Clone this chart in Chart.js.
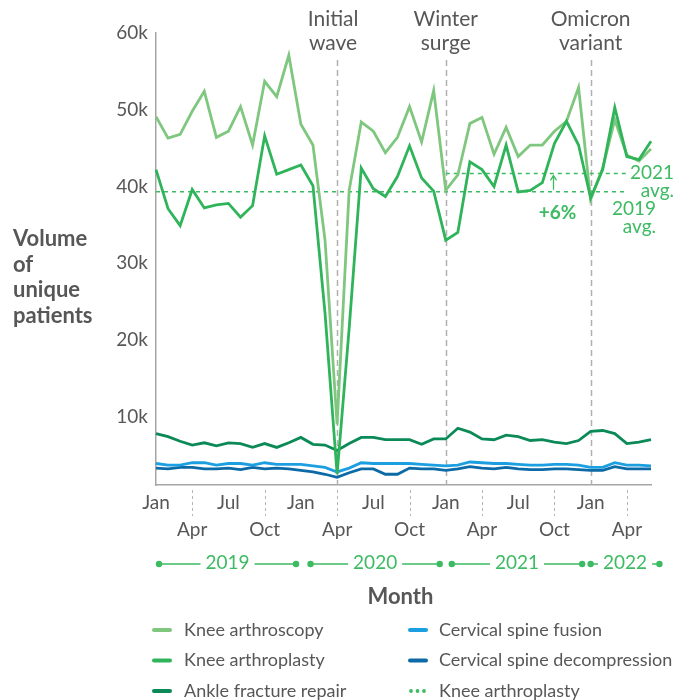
<!DOCTYPE html>
<html>
<head>
<meta charset="utf-8">
<script src="https://cdn.jsdelivr.net/npm/chart.js@4.4.1/dist/chart.umd.min.js"></script>
<style>
html, body { margin: 0; padding: 0; background: #fff; }
</style>
</head>
<body>
<canvas id="graph" width="678" height="700"></canvas>
<script>
// monthly volumes, in thousands of unique patients (Jan 2019 - Jun 2022)
const monthNames = ["Jan","Feb","Mar","Apr","May","Jun","Jul","Aug","Sep","Oct","Nov","Dec"];
const years = ["2019","2020","2021","2022"];
const months = [];
years.forEach(y => monthNames.forEach(m => months.push(m + " " + y)));
months.length = 42;

const kneeArthroscopy = [49.1,46.3,46.8,49.8,52.4,46.4,47.2,50.4,45.4,53.7,51.7,57.1,
                         48.1,45.4,33.0,9.0,39.5,48.4,47.2,44.4,46.4,50.4,45.8,52.5,
                         39.5,41.5,48.2,49.0,44.2,47.7,43.9,45.4,45.4,47.2,48.5,52.9,
                         38.3,42.4,48.7,44.1,43.3,44.9];
const kneeArthroplasty = [42.2,37.1,34.9,39.6,37.2,37.6,37.8,36.0,37.5,46.6,41.6,42.2,
                          42.8,40.1,23.5,2.5,21.5,42.4,39.7,38.7,41.3,45.3,41.1,39.4,
                          33.0,34.0,43.2,42.2,40.0,45.4,39.3,39.5,40.5,45.6,48.5,45.4,
                          38.5,42.2,50.3,43.9,43.5,45.9];
const ankleFracture = [7.8,7.4,6.8,6.3,6.6,6.2,6.6,6.5,6.0,6.5,6.0,6.6,
                       7.3,6.4,6.3,5.6,6.5,7.3,7.3,7.0,7.0,7.0,6.4,7.1,
                       7.1,8.5,8.0,7.1,7.0,7.6,7.4,6.9,7.0,6.7,6.5,6.9,
                       8.1,8.2,7.8,6.5,6.7,7.0];
const spineFusion = [3.9,3.7,3.7,4.0,4.0,3.7,3.9,3.9,3.7,4.0,3.8,3.8,
                     3.8,3.6,3.4,2.8,3.3,4.0,3.9,3.9,3.9,3.9,3.8,3.7,
                     3.6,3.7,4.1,4.0,3.9,3.9,3.8,3.7,3.7,3.8,3.8,3.7,
                     3.4,3.4,4.0,3.7,3.7,3.6];
const spineDecompression = [3.3,3.2,3.4,3.4,3.2,3.2,3.3,3.1,3.4,3.2,3.3,3.2,
                            3.0,2.8,2.5,2.1,2.7,3.2,3.2,2.5,2.5,3.3,3.2,3.2,
                            3.0,3.2,3.5,3.3,3.2,3.4,3.2,3.1,3.1,3.2,3.2,3.1,
                            3.0,3.0,3.5,3.2,3.2,3.2];

// knee arthroplasty averages and the change between them
const avg2019 = 39.3;
const avg2021 = 41.7;
const avgChange = "+6%";
const avgEnd = 39;      // month index where the avg lines stop

const yTicks = [10, 20, 30, 40, 50, 60];

// year brackets under the axis, in month units [from, to]
const yearBands = [[0.25, 11.6], [12.8, 23.5], [24.5, 35.3], [36.0, 41.7]];

const events = [
    {index: 15, text: ["Initial", "wave"]},
    {index: 24, text: ["Winter", "surge"]},
    {index: 36, text: ["Omicron", "variant"]}
];

const colors = {
    arthroscopy: "#7fc77f",
    arthroplasty: "#2fb45a",
    ankle: "#0b8a58",
    fusion: "#1c9fe0",
    decompression: "#0c6aa6",
    avg: "#3dbb62",
    text: "#575757",
    axis: "#a5a5a5"
};

const legendItems = [
    {label: "Knee arthroscopy", color: colors.arthroscopy},
    {label: "Knee arthroplasty", color: colors.arthroplasty},
    {label: "Ankle fracture repair", color: colors.ankle},
    {label: "Cervical spine fusion", color: colors.fusion},
    {label: "Cervical spine decompression", color: colors.decompression},
    {label: "Knee arthroplasty", color: colors.avg, dotted: true}
];

Chart.defaults.font.family = "Lato";
Chart.defaults.color = colors.text;

function series(label, data, color, order) {
    return {
        label: label,
        data: data,
        borderColor: color,
        borderWidth: 2.8,
        pointRadius: 0,
        tension: 0,
        fill: false,
        order: order
    };
}

function avgLine(value, from) {
    return {
        label: "avg",
        data: months.map((m, i) => (i >= from && i <= avgEnd) ? value : null),
        borderColor: colors.avg,
        borderWidth: 1.5,
        borderDash: [4, 4],
        pointRadius: 0,
        spanGaps: false,
        order: 6
    };
}

const overlay = {
    id: "overlay",
    beforeDatasetsDraw(chart) {
        const {ctx, chartArea, scales: {x}} = chart;
        ctx.save();
        ctx.strokeStyle = "#b0b0b0";
        ctx.lineWidth = 1.5;
        ctx.setLineDash([6, 4]);
        events.forEach(ev => {
            const px = Math.round(x.getPixelForValue(ev.index)) + 0.5;
            ctx.beginPath();
            ctx.moveTo(px, 60);
            ctx.lineTo(px, chartArea.bottom);
            ctx.stroke();
        });
        ctx.restore();
    },
    afterDraw(chart) {
        const {ctx, chartArea, scales: {x, y}} = chart;
        ctx.save();
        ctx.textBaseline = "middle";

        // event labels above the dashed lines
        ctx.fillStyle = colors.text;
        ctx.font = "21px Lato";
        ctx.textAlign = "center";
        events.forEach(ev => {
            const px = x.getPixelForValue(ev.index);
            ev.text.forEach((t, k) => ctx.fillText(t, px - (ev.index === 15 ? 4 : 0), 19 + k * 24));
        });

        // separators between the two rows of month labels
        ctx.strokeStyle = "#b5b5b5";
        ctx.lineWidth = 1;
        ctx.setLineDash([3, 3]);
        months.forEach((m, i) => {
            if (i % 6 !== 3) return;
            const px = Math.round(x.getPixelForValue(i)) + 0.5;
            ctx.beginPath();
            ctx.moveTo(px, 490);
            ctx.lineTo(px, 516);
            ctx.stroke();
        });
        ctx.setLineDash([]);

        // arrow from 2019 avg to 2021 avg
        const ax = Math.round(x.getPixelForValue(33)) - 0.5;
        const y19 = y.getPixelForValue(avg2019);
        const y21 = y.getPixelForValue(avg2021);
        ctx.strokeStyle = colors.avg;
        ctx.lineWidth = 1.3;
        ctx.beginPath();
        ctx.moveTo(ax, y19 - 2);
        ctx.lineTo(ax, y21 + 3);
        ctx.moveTo(ax - 3, y21 + 7);
        ctx.lineTo(ax, y21 + 2);
        ctx.lineTo(ax + 3, y21 + 7);
        ctx.stroke();
        ctx.fillStyle = colors.avg;
        ctx.font = "bold 19px Lato";
        ctx.textAlign = "center";
        ctx.fillText(avgChange, ax + 4, y19 + 21);

        // avg labels
        ctx.font = "19px Lato";
        ctx.textAlign = "right";
        ctx.fillText("2021", 674, y21 - 1);
        ctx.fillText("avg.", 674, y21 + 17);
        ctx.fillText("2019", 656, y19 + 17);
        ctx.fillText("avg.", 656, y19 + 35);

        // year bands under the month labels
        const bandY = 564;
        ctx.font = "19px Lato";
        ctx.textAlign = "center";
        years.forEach((yr, k) => {
            const a = x.getPixelForValue(yearBands[k][0]);
            const b = x.getPixelForValue(yearBands[k][1]);
            const mid = (a + b) / 2;
            const w = ctx.measureText(yr).width;
            ctx.strokeStyle = colors.avg;
            ctx.fillStyle = colors.avg;
            ctx.lineWidth = 1.3;
            ctx.beginPath();
            ctx.moveTo(a, bandY);
            ctx.lineTo(mid - w / 2 - 5, bandY);
            ctx.moveTo(mid + w / 2 + 5, bandY);
            ctx.lineTo(b, bandY);
            ctx.stroke();
            [a, b].forEach(p => {
                ctx.beginPath();
                ctx.arc(p, bandY, 3.2, 0, Math.PI * 2);
                ctx.fill();
            });
            ctx.fillText(yr, mid, bandY - 1);
        });

        // axis titles
        ctx.fillStyle = colors.text;
        ctx.font = "bold 22px Lato";
        ctx.textAlign = "center";
        ctx.fillText("Month", (chartArea.left + chartArea.right) / 2 - 3, 597);
        ctx.textAlign = "left";
        ["Volume", "of", "unique", "patients"].forEach((t, k) => ctx.fillText(t, 13, 239 + k * 25.5));

        // legend, two columns
        ctx.font = "18px Lato";
        legendItems.forEach((item, k) => {
            const col = Math.floor(k / 3);
            const row = k % 3;
            const lx = col === 0 ? 154 : 410;
            const tx = col === 0 ? 184 : 439;
            const ly = 630 + row * 30.5;
            ctx.strokeStyle = item.color;
            ctx.fillStyle = item.color;
            if (item.dotted) {
                [0, 6.5, 13].forEach(d => {
                    ctx.beginPath();
                    ctx.arc(lx + 1 + d, ly, 1.9, 0, Math.PI * 2);
                    ctx.fill();
                });
            } else {
                ctx.lineWidth = 4;
                ctx.lineCap = "round";
                ctx.beginPath();
                ctx.moveTo(lx, ly);
                ctx.lineTo(lx + 16, ly);
                ctx.stroke();
            }
            ctx.fillStyle = colors.text;
            ctx.fillText(item.label, tx, ly);
        });
        ctx.restore();
    }
};

new Chart(document.getElementById("graph"), {
    type: "line",
    data: {
        labels: months,
        datasets: [
            series("Knee arthroplasty", kneeArthroplasty, colors.arthroplasty, 0),
            series("Knee arthroscopy", kneeArthroscopy, colors.arthroscopy, 1),
            series("Ankle fracture repair", ankleFracture, colors.ankle, 2),
            series("Cervical spine fusion", spineFusion, colors.fusion, 3),
            series("Cervical spine decompression", spineDecompression, colors.decompression, 4),
            avgLine(avg2019, 0),
            avgLine(avg2021, 24)
        ]
    },
    options: {
        responsive: false,
        animation: false,
        events: [],
        layout: {padding: {top: 33, right: 27, bottom: 0, left: 0}},
        plugins: {legend: {display: false}, tooltip: {enabled: false}},
        scales: {
            x: {
                type: "category",
                offset: false,
                grid: {display: false, drawTicks: false},
                border: {display: true, color: colors.axis, width: 1.5},
                ticks: {
                    autoSkip: false,
                    maxRotation: 0,
                    padding: 4,
                    font: {size: 19, lineHeight: 1.42},
                    color: colors.text,
                    callback: function (value, index) {
                        const name = months[index].split(" ")[0];
                        if (index % 6 === 0) return [name, ""];
                        if (index % 6 === 3) return ["", name];
                        return null;
                    }
                },
                afterFit(scale) { scale.height = 215; }
            },
            y: {
                min: 1.1,
                max: 60,
                grid: {display: false, drawTicks: false},
                border: {display: true, color: colors.axis, width: 1.5},
                ticks: {
                    padding: 8,
                    font: {size: 19},
                    color: colors.text,
                    callback: v => v + "k"
                },
                afterBuildTicks(scale) { scale.ticks = yTicks.map(v => ({value: v})); },
                afterFit(scale) { scale.width = 156; }
            }
        }
    },
    plugins: [overlay]
});
</script>
</body>
</html>
